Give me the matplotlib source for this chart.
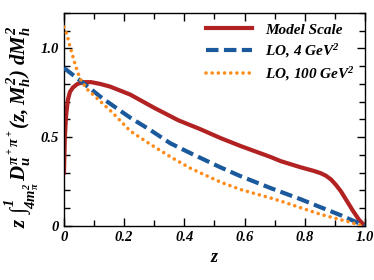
import matplotlib
matplotlib.use("Agg")
import matplotlib.pyplot as plt
from matplotlib.ticker import MultipleLocator

plt.rcParams['font.family'] = ['Liberation Serif', 'DejaVu Serif']
plt.rcParams['font.weight'] = 'bold'
plt.rcParams['font.style'] = 'italic'
plt.rcParams['mathtext.fontset'] = 'custom'
plt.rcParams['mathtext.it'] = 'Liberation Serif:bold:italic'
plt.rcParams['mathtext.rm'] = 'Liberation Serif:bold:italic'
plt.rcParams['mathtext.bf'] = 'Liberation Serif:bold:italic'
plt.rcParams['mathtext.sf'] = 'Liberation Serif:bold:italic'

# Model scale
z_model = [0, 0.003, 0.007, 0.013, 0.02, 0.03, 0.045, 0.065, 0.09, 0.12, 0.153,
           0.22, 0.3, 0.38, 0.453, 0.52, 0.587, 0.687, 0.72, 0.787, 0.83, 0.853,
           0.87, 0.887, 0.903, 0.92, 0.94, 0.96, 0.98, 1.0]
d_model = [0.30, 0.50, 0.62, 0.71, 0.755, 0.78, 0.80, 0.81, 0.81, 0.80, 0.785,
           0.74, 0.665, 0.595, 0.545, 0.495, 0.45, 0.388, 0.365, 0.33, 0.31, 0.297,
           0.283, 0.262, 0.232, 0.195, 0.14, 0.085, 0.035, 0.0]
# LO, 4 GeV^2
z_lo4 = [0, 0.053, 0.127, 0.22, 0.287, 0.353, 0.42, 0.52, 0.587, 0.687, 0.787,
         0.853, 0.92, 0.96, 1.0]
d_lo4 = [0.89, 0.82, 0.72, 0.61, 0.54, 0.466, 0.41, 0.33, 0.28, 0.213, 0.15,
         0.105, 0.06, 0.03, 0.0]
# LO, 100 GeV^2
z_lo100 = [0, 0.01, 0.017, 0.027, 0.037, 0.053, 0.077, 0.103, 0.16, 0.22, 0.287,
           0.353, 0.42, 0.52, 0.587, 0.687, 0.72, 0.853, 0.953, 0.98, 1.0]
d_lo100 = [1.12, 1.08, 1.03, 0.97, 0.91, 0.83, 0.77, 0.73, 0.64, 0.535, 0.46,
           0.39, 0.325, 0.247, 0.205, 0.157, 0.14, 0.065, 0.02, 0.005, 0.0]

labels = ["Model Scale", r"LO, 4 GeV$^2$", r"LO, 100 GeV$^2$"]
xticks = [0, 0.2, 0.4, 0.6, 0.8, 1.0]
xticklabels = ["0", "0.2", "0.4", "0.6", "0.8", "1.0"]
yticks = [0, 0.5, 1.0]
yticklabels = ["0", "0.5", "1.0"]

fig = plt.figure(figsize=(3.74, 2.80), dpi=100)
ax = fig.add_axes([0.171, 0.193, 0.805, 0.761])

ax.plot(z_model, d_model, color='#b22222', lw=3.0, label=labels[0], zorder=2)
ax.plot(z_lo4, d_lo4, color='#1a5a9c', lw=3.0, ls=(0, (3.0, 1.3)), label=labels[1], zorder=3)
ax.plot(z_lo100, d_lo100, color='#ff8c1a', lw=2.6, ls=(0, (0.01, 1.7)),
        dash_capstyle='round', label=labels[2], zorder=4)

ax.set_xlim(0, 1.0)
ax.set_ylim(0, 1.2)
ax.set_xticks(xticks)
ax.set_xticklabels(xticklabels)
ax.set_yticks(yticks)
ax.set_yticklabels(yticklabels)
ax.xaxis.set_minor_locator(MultipleLocator(0.1))
ax.yaxis.set_minor_locator(MultipleLocator(0.1))
ax.tick_params(which='both', direction='in', top=True, right=True,
               labelsize=10.5, width=1.0)
ax.tick_params(which='major', length=6)
ax.tick_params(which='minor', length=4)
for lab in ax.get_xticklabels() + ax.get_yticklabels():
    lab.set_fontweight('bold')
    lab.set_fontstyle('italic')
for s in ax.spines.values():
    s.set_linewidth(1.0)

ax.set_xlabel("z", fontsize=13, fontweight='bold', fontstyle='italic', labelpad=4)
ax.set_ylabel(r"$z\ \int_{4m_\pi^2}^{1}\,D_u^{\pi^+\pi^+}(z,M_h^2)\ dM_h^2$",
              fontsize=15)
ax.yaxis.set_label_coords(-0.075, 0.465)

leg = ax.legend(loc='upper right', frameon=False, fontsize=11,
                handlelength=3.0, borderaxespad=0.25, labelspacing=0.35,
                handletextpad=0.85)
for t in leg.get_texts():
    t.set_fontweight('bold')
    t.set_fontstyle('italic')

fig.savefig("out.png", dpi=100)
